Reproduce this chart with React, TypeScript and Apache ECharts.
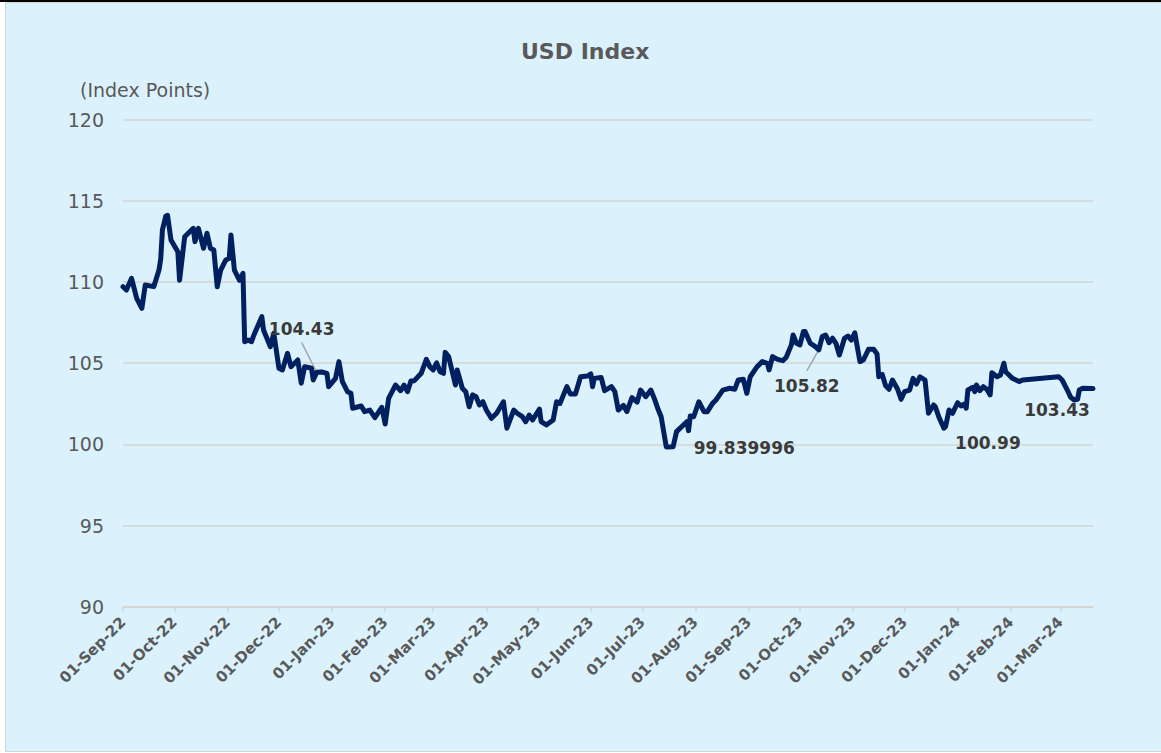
import React, { useEffect, useRef } from "react";
import * as echarts from "echarts";

// ---- Data ----
const DATES: string[] = [
  "2022-09-01","2022-09-03","2022-09-06","2022-09-09","2022-09-12","2022-09-14","2022-09-19","2022-09-22","2022-09-23","2022-09-24",
  "2022-09-26","2022-09-27","2022-09-29","2022-10-03","2022-10-04","2022-10-07","2022-10-12","2022-10-13","2022-10-15","2022-10-18",
  "2022-10-20","2022-10-22","2022-10-24","2022-10-26","2022-10-28","2022-10-31","2022-11-02","2022-11-03","2022-11-05","2022-11-08",
  "2022-11-10","2022-11-11","2022-11-13","2022-11-15","2022-11-16","2022-11-21","2022-11-22","2022-11-26","2022-11-28","2022-12-01",
  "2022-12-03","2022-12-06","2022-12-08","2022-12-12","2022-12-14","2022-12-16","2022-12-20","2022-12-21","2022-12-23","2022-12-26",
  "2022-12-29","2022-12-30","2023-01-03","2023-01-05","2023-01-07","2023-01-10","2023-01-12","2023-01-13","2023-01-18","2023-01-20",
  "2023-01-23","2023-01-26","2023-01-30","2023-02-01","2023-02-03","2023-02-07","2023-02-10","2023-02-12","2023-02-14","2023-02-16",
  "2023-02-18","2023-02-22","2023-02-25","2023-02-27","2023-03-01","2023-03-03","2023-03-05","2023-03-07","2023-03-08","2023-03-10",
  "2023-03-14","2023-03-15","2023-03-18","2023-03-20","2023-03-22","2023-03-24","2023-03-26","2023-03-28","2023-03-30","2023-04-01",
  "2023-04-04","2023-04-07","2023-04-11","2023-04-13","2023-04-17","2023-04-19","2023-04-22","2023-04-24","2023-04-26","2023-04-28",
  "2023-05-02","2023-05-03","2023-05-06","2023-05-10","2023-05-12","2023-05-14","2023-05-18","2023-05-20","2023-05-23","2023-05-26",
  "2023-05-30","2023-06-01","2023-06-02","2023-06-03","2023-06-07","2023-06-09","2023-06-13","2023-06-15","2023-06-17","2023-06-20",
  "2023-06-22","2023-06-25","2023-06-28","2023-06-30","2023-07-03","2023-07-06","2023-07-08","2023-07-10","2023-07-12","2023-07-15",
  "2023-07-19","2023-07-21","2023-07-25","2023-07-27","2023-07-28","2023-07-29","2023-07-31","2023-08-03","2023-08-06","2023-08-08",
  "2023-08-11","2023-08-13","2023-08-17","2023-08-21","2023-08-24","2023-08-26","2023-08-29","2023-08-31","2023-09-02","2023-09-06",
  "2023-09-09","2023-09-12","2023-09-13","2023-09-15","2023-09-18","2023-09-21","2023-09-23","2023-09-26","2023-09-27","2023-09-29",
  "2023-10-01","2023-10-03","2023-10-04","2023-10-07","2023-10-10","2023-10-12","2023-10-14","2023-10-16","2023-10-18","2023-10-20",
  "2023-10-22","2023-10-24","2023-10-27","2023-10-29","2023-10-31","2023-11-02","2023-11-05","2023-11-07","2023-11-10","2023-11-13",
  "2023-11-15","2023-11-16","2023-11-18","2023-11-20","2023-11-22","2023-11-24","2023-11-27","2023-11-29","2023-12-01","2023-12-04",
  "2023-12-06","2023-12-08","2023-12-10","2023-12-13","2023-12-15","2023-12-18","2023-12-19","2023-12-21","2023-12-24","2023-12-25",
  "2023-12-27","2023-12-29","2024-01-01","2024-01-03","2024-01-05","2024-01-06","2024-01-07","2024-01-10","2024-01-11","2024-01-12",
  "2024-01-14","2024-01-16","2024-01-18","2024-01-20","2024-01-21","2024-01-24","2024-01-26","2024-01-28","2024-01-29","2024-01-31",
  "2024-02-02","2024-02-06","2024-02-08","2024-02-29","2024-03-02","2024-03-05","2024-03-07","2024-03-09","2024-03-11","2024-03-12",
  "2024-03-14","2024-03-20"
];

const VALUES: number[] = [
  109.7,109.5,110.22,108.99,108.37,109.81,109.71,110.73,111.4,113.2,
  114.06,114.1,112.58,111.86,110.1,112.78,113.3,112.48,113.3,112.07,
  113.0,112.07,111.96,109.7,110.73,111.35,111.45,112.89,110.73,110.1,
  110.53,106.32,106.42,106.32,106.63,107.86,107.04,106.01,106.83,104.68,
  104.58,105.6,104.78,105.19,103.76,104.78,104.68,103.96,104.43,104.45,
  104.37,103.55,104.06,105.09,103.86,103.24,103.14,102.22,102.36,102.01,
  102.11,101.64,102.28,101.25,102.83,103.65,103.3,103.65,103.24,103.9,
  103.92,104.37,105.23,104.78,104.58,105.02,104.47,104.37,105.66,105.4,
  103.65,104.58,103.45,103.24,102.31,103.04,102.93,102.42,102.62,102.11,
  101.6,101.91,102.62,100.99,102.11,101.91,101.7,101.39,101.8,101.5,
  102.16,101.39,101.19,101.5,102.62,102.52,103.55,103.1,103.1,104.16,
  104.2,104.33,103.55,104.06,104.12,103.3,103.55,103.24,102.11,102.4,
  102.01,102.88,102.6,103.34,102.93,103.34,102.83,102.22,101.7,99.839996,
  99.85,100.78,101.19,101.39,100.84,101.74,101.7,102.62,102.01,102.01,
  102.52,102.73,103.34,103.45,103.39,103.96,104.0,103.14,104.16,104.78,
  105.09,104.99,104.58,105.4,105.23,105.15,105.36,106.12,106.73,106.22,
  106.12,106.94,106.94,106.22,106.01,105.82,106.63,106.73,106.26,106.53,
  106.22,105.5,106.53,106.67,106.42,106.87,105.09,105.19,105.85,105.85,
  105.56,104.16,104.3,103.6,103.39,103.96,103.39,102.77,103.24,103.34,
  104.06,103.71,104.16,103.96,101.91,102.42,102.31,101.7,100.99,101.1,
  102.11,101.91,102.56,102.36,102.48,102.22,103.34,103.51,103.24,103.65,
  103.3,103.55,103.39,103.04,104.41,104.16,104.27,104.99,104.47,104.27,
  104.06,103.86,103.96,104.16,103.96,103.34,102.89,102.73,102.77,103.34,
  103.45,103.43
];

const X_TICK_LABELS: string[] = [
  "01-Sep-22","01-Oct-22","01-Nov-22","01-Dec-22","01-Jan-23","01-Feb-23","01-Mar-23","01-Apr-23","01-May-23","01-Jun-23",
  "01-Jul-23","01-Aug-23","01-Sep-23","01-Oct-23","01-Nov-23","01-Dec-23","01-Jan-24","01-Feb-24","01-Mar-24"
];
const X_MIN_DATE = "2022-09-01";
const X_MAX_DATE = "2024-03-20";

const Y_MIN = 90;
const Y_MAX = 120;
const Y_STEP = 5;

const ANN_DATES: string[] = ["2022-12-23", "2023-07-15", "2023-10-12", "2023-12-24", "2024-03-20"];
const ANN_VALUES: number[] = [104.43, 99.839996, 105.82, 100.99, 103.43];
const ANN_LABELS: string[] = ["104.43", "99.839996", "105.82", "100.99", "103.43"];
const ANN_LEADER: boolean[] = [true, false, true, false, false];

const TITLE = "USD Index";
const Y_NAME = "(Index Points)";

// ---- Layout / style ----
const ANN_OFFSETS: number[][] = [[-15, -43], [78, 1], [-12, 36], [44, 15], [-36, 21]];
const FONT = "DejaVu Sans";
const LINE_COLOR = "#002060";
const TEXT_GRAY = "#595959";
const GRID_GRAY = "#D5D5D5";

const MONTHS: Record<string, number> = {
  Jan: 0, Feb: 1, Mar: 2, Apr: 3, May: 4, Jun: 5, Jul: 6, Aug: 7, Sep: 8, Oct: 9, Nov: 10, Dec: 11,
};
function isoTs(s: string): number {
  const [y, m, d] = s.split("-").map(Number);
  return Date.UTC(y, m - 1, d);
}
function tickTs(s: string): number {
  const [d, m, y] = s.split("-");
  return Date.UTC(2000 + Number(y), MONTHS[m], Number(d));
}

export default function App() {
  const ref = useRef<HTMLDivElement>(null);

  useEffect(() => {
    if (!ref.current) return;
    const chart = echarts.init(ref.current, undefined, { renderer: "svg" });
    const ticks = X_TICK_LABELS.map(tickTs);

    const staticGraphics: any[] = [
      {
        id: "title",
        type: "text",
        left: 586 - 65,
        top: 40,
        style: { text: TITLE, fontFamily: FONT, fontWeight: "bold", fontSize: 22, fill: TEXT_GRAY },
      },
      {
        id: "yname",
        type: "text",
        left: 80,
        top: 80,
        style: { text: Y_NAME, fontFamily: FONT, fontSize: 19, fill: TEXT_GRAY },
      },
    ];

    chart.setOption({
      animation: false,
      backgroundColor: "transparent",
      textStyle: { fontFamily: FONT },
      grid: { left: 123, right: 68, top: 119.5, bottom: 146.3, containLabel: false },
      xAxis: {
        type: "value",
        min: isoTs(X_MIN_DATE),
        max: isoTs(X_MAX_DATE),
        splitLine: { show: false },
        axisLine: { show: true, lineStyle: { color: GRID_GRAY, width: 1.5 } },
        axisTick: { show: true, length: 5, customValues: ticks, lineStyle: { color: GRID_GRAY, width: 1.5 } },
        axisLabel: {
          customValues: ticks,
          rotate: 45,
          margin: 13,
          fontFamily: FONT,
          fontWeight: "bold",
          fontSize: 15,
          color: TEXT_GRAY,
          formatter: (v: number) => {
            const i = ticks.indexOf(v);
            return i >= 0 ? X_TICK_LABELS[i] : "";
          },
        },
      },
      yAxis: {
        type: "value",
        min: Y_MIN,
        max: Y_MAX,
        interval: Y_STEP,
        axisLine: { show: false },
        axisTick: { show: false },
        splitLine: { show: true, lineStyle: { color: GRID_GRAY, width: 1.5 } },
        axisLabel: { margin: 19, fontFamily: FONT, fontSize: 19, color: TEXT_GRAY },
      },
      graphic: staticGraphics,
      series: [
        {
          type: "line",
          data: DATES.map((d, i) => [isoTs(d), VALUES[i]]),
          showSymbol: false,
          symbol: "none",
          silent: true,
          lineStyle: { color: LINE_COLOR, width: 5, join: "round", cap: "round" },
          z: 2,
        },
        {
          type: "scatter",
          silent: true,
          symbolSize: 1,
          itemStyle: { color: "rgba(0,0,0,0)" },
          data: ANN_DATES.map((d, i) => ({
            value: [isoTs(d), ANN_VALUES[i]],
            label: { offset: ANN_OFFSETS[i] },
          })),
          label: {
            show: true,
            position: "inside",
            formatter: (p: any) => ANN_LABELS[p.dataIndex],
            fontFamily: FONT,
            fontWeight: "bold",
            fontSize: 17,
            color: "#3A3A3A",
            opacity: 1,
            textBorderWidth: 0,
          },
          z: 3,
        },
      ],
    });

    const leaders: any[] = [];
    ANN_DATES.forEach((d, i) => {
      if (!ANN_LEADER[i]) return;
      const p = chart.convertToPixel({ gridIndex: 0 }, [isoTs(d), ANN_VALUES[i]]) as number[];
      const [dx, dy] = ANN_OFFSETS[i];
      const cx = p[0] + dx;
      const cy = p[1] + dy;
      const sx = cx;
      const sy = dy < 0 ? cy + 13 : cy - 15;
      const ex = p[0] - (p[0] - sx) * 0.05;
      const ey = p[1] - (p[1] - sy) * 0.05;
      leaders.push({
        id: "leader" + i,
        type: "line",
        shape: { x1: sx, y1: sy, x2: ex, y2: ey },
        style: { stroke: "#A6A6A6", lineWidth: 1.5 },
        z: 1,
      });
    });
    chart.setOption({ graphic: [...staticGraphics, ...leaders] });

    return () => chart.dispose();
  }, []);

  return (
    <div style={{ position: "fixed", left: 0, top: 0, width: 1161, height: 753, background: "#fff", overflow: "hidden" }}>
      <div style={{ position: "absolute", left: 0, top: 0, width: 1161, height: 2, background: "#000" }} />
      <div
        style={{
          position: "absolute",
          left: 5,
          top: 2,
          width: 1160,
          height: 750,
          boxSizing: "border-box",
          border: "1px solid #D4D4D4",
          background: "#DBF2FC",
        }}
      />
      <div ref={ref} style={{ position: "absolute", left: 0, top: 0, width: 1161, height: 753 }} />
    </div>
  );
}
